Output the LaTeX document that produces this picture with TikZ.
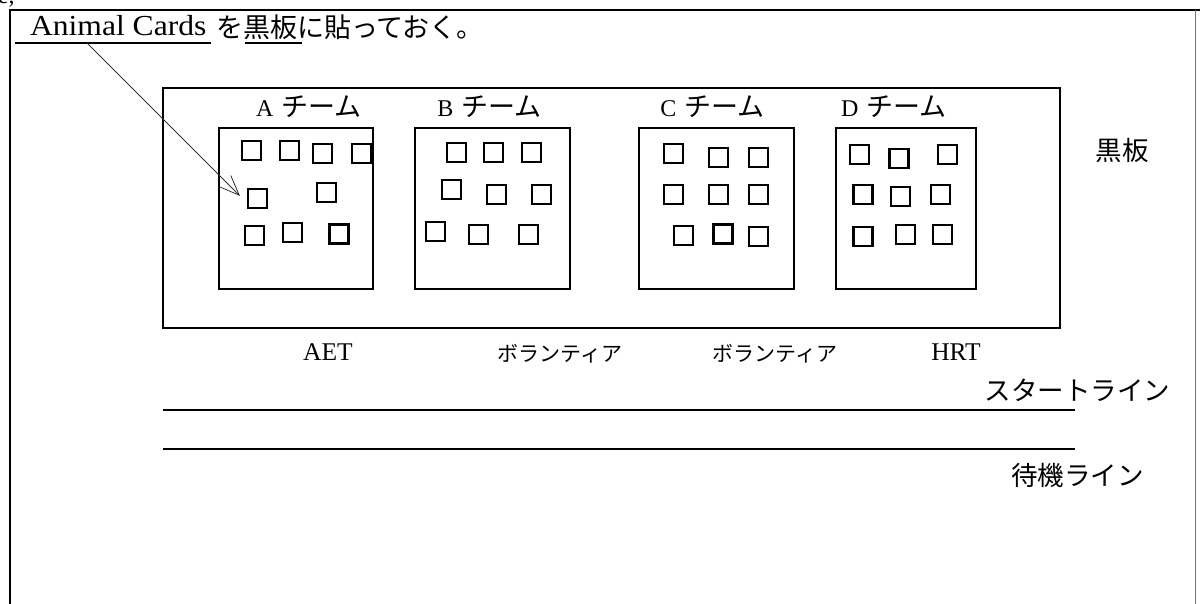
\documentclass[tikz,border=0pt]{standalone}
\usepackage{fontspec}
\setmainfont{Liberation Serif}
\newfontfamily\jp{Noto Sans CJK JP}
\usetikzlibrary{arrows.meta}
\begin{document}
\begin{tikzpicture}[x=1pt,y=-1pt,
  frameline/.style={line width=2.3pt},
  boxst/.style={draw, line width=2.3pt, inner sep=0pt, outer sep=0pt},
  card/.style={draw, line width=2.2pt, minimum size=19pt, inner sep=0pt, outer sep=0pt},
  lbl/.style={inner sep=0pt, outer sep=0pt},
  teamlbl/.style={lbl, anchor=base, font=\fontsize{24}{28}\selectfont},
  jpbig/.style={lbl, font=\jp\fontsize{26.5}{30}\selectfont},
  jpsmall/.style={lbl, font=\jp\fontsize{21}{24}\selectfont},
  latlbl/.style={lbl, anchor=base, font=\fontsize{25.5}{30}\selectfont},
  pointer/.style={line width=0.8pt, draw=black!80, -{Straight Barb[length=20pt,width=16pt,line width=0.8pt]}}
]
\useasboundingbox (0,0) rectangle (1200,604);

% outer frame
\draw[frameline] (10,604) -- (10,10) -- (1200,10);
\draw[draw=black!55, line width=0.8pt] (1195,10) -- (1195,604);
\node[lbl, anchor=base west, font=\fontsize{24}{26}\selectfont] (frag) at (-2,4) {e,};

% heading
\node[lbl, anchor=base west, font=\fontsize{29}{32}\selectfont] (hdrlat) at (30,36) {\scalebox{1.09}[1]{Animal Cards}};
\node[lbl, anchor=base west, font=\jp\fontsize{27}{30}\selectfont] (hdrjp) at (216,38) {を黒板に貼っておく。};
\draw[line width=2.3pt] (15,43) -- (211,43);
\draw[line width=2.3pt] (245,43) -- (302,43);

% board and team boxes
\node[boxst, minimum width=897pt, minimum height=240pt] (board) at (611.5,208) {};
\node[boxst, minimum width=154pt, minimum height=161pt] (teamA) at (296,208.5) {};
\node[boxst, minimum width=155pt, minimum height=161pt] (teamB) at (492.5,208.5) {};
\node[boxst, minimum width=155pt, minimum height=161pt] (teamC) at (716.5,208.5) {};
\node[boxst, minimum width=140pt, minimum height=161pt] (teamD) at (906,208.5) {};

% team labels
\node[teamlbl] (labA) at (309,117) {A\hspace{8pt}{\jp\fontsize{27}{30}\selectfont チーム}};
\node[teamlbl] (labB) at (489.5,117) {B\hspace{8pt}{\jp\fontsize{27}{30}\selectfont チーム}};
\node[teamlbl] (labC) at (712.5,117) {C\hspace{8pt}{\jp\fontsize{27}{30}\selectfont チーム}};
\node[teamlbl] (labD) at (894,117) {D\hspace{8pt}{\jp\fontsize{27}{30}\selectfont チーム}};

% cards
\foreach \n/\x/\y in {a1/251.5/150.5, a2/289.5/150.5, a3/322.5/153.5, a4/361.5/153.5,
  a5/257.5/198.5, a6/326.5/192.5, a7/254.5/235.5, a8/292.5/232.5, a9/339/234,
  b1/456.5/152.5, b2/493.5/152.5, b3/531.5/152.5, b4/451.5/189.5, b5/496.5/194.5,
  b6/541.5/194.5, b7/435.5/231.5, b8/478.5/234.5, b9/528.5/234.5,
  c1/673.5/153.5, c2/718.5/157.5, c3/758.5/157.5, c4/673.5/194.5, c5/718.5/194.5,
  c6/758.5/194.5, c7/683.5/235.5, c8/723/234, c9/758.5/236.5,
  d1/859.5/154.5, d2/899/158.5, d3/947.5/154.5, d4/863/194.5, d5/900.5/196.5,
  d6/940.5/194.5, d7/863/236.5, d8/905.5/234.5, d9/942.5/234.5}
  \node[card] (\n) at (\x,\y) {};

% pointer
\coordinate (ptrstart) at (87,43);
\coordinate (ptrend) at (240,196);
\draw[pointer] (ptrstart) -- (ptrend);

% board label
\node[jpbig] (kokuban) at (1122,150) {黒板};

% helpers
\node[latlbl] (aet) at (328,360) {AET};
\node[jpsmall] (vol1) at (560,354) {ボランティア};
\node[jpsmall] (vol2) at (775,354) {ボランティア};
\node[latlbl] (hrt) at (956,360) {HRT};

% lines
\coordinate (l1a) at (163,410);
\coordinate (l1b) at (1075,410);
\coordinate (l2a) at (163,449);
\coordinate (l2b) at (1075,449);
\draw[line width=2.3pt] (l1a) -- (l1b);
\draw[line width=2.3pt] (l2a) -- (l2b);
\node[jpbig] (start) at (1077.5,390) {スタートライン};
\node[jpbig] (wait) at (1077.5,475) {待機ライン};
\end{tikzpicture}
\end{document}
